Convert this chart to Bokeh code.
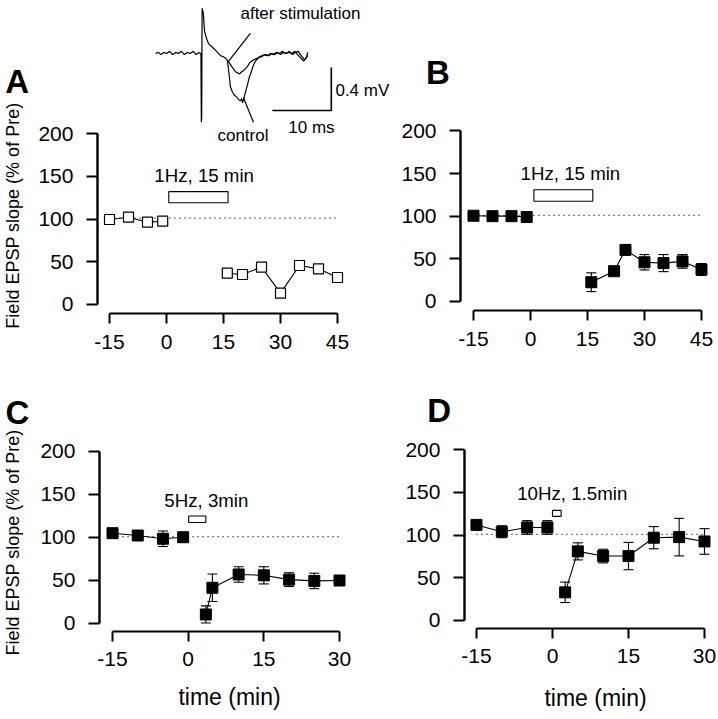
import math
from bokeh.plotting import figure
from bokeh.layouts import row, column
from bokeh.models import Range1d, FixedTicker, Label, Whisker, TeeHead, ColumnDataSource
from bokeh.embed import file_html
from bokeh.resources import INLINE

# ---------------- data ----------------
# Panel A: 1 Hz, 15 min (single experiment, open squares)
a_pre_t = [-15, -10, -5, -1]
a_pre_v = [99.4, 102.1, 96.3, 97.4]
a_post_t = [16, 20, 25, 30, 35, 40, 45]
a_post_v = [36.6, 35.1, 43.7, 13.3, 45.6, 41.7, 31.6]

# Panel B: 1 Hz, 15 min (mean +/- s.e.m.)
b_pre_t = [-15, -10, -5, -1]
b_pre_v = [100.5, 100, 100, 99]
b_pre_e = [3, 3, 3, 3]
b_post_t = [16, 22, 25, 30, 35, 40, 45]
b_post_v = [22.6, 35.5, 60.5, 46, 45, 47, 37.5]
b_post_e = [11, 4, 6, 9, 10, 8, 7]

# Panel C: 5 Hz, 3 min
c_pre_t = [-15, -10, -5, -1]
c_pre_v = [105, 102.3, 98.5, 100.3]
c_pre_e = [2, 5, 9, 4]
c_post_t = [3.5, 4.8, 10, 15, 20, 25, 30]
c_post_v = [10.5, 41.5, 57, 56, 51, 49.5, 50]
c_post_e = [10, 16, 9, 10, 8, 9, 3]

# Panel D: 10 Hz, 1.5 min
d_pre_t = [-15, -10, -5, -1]
d_pre_v = [112, 104, 109, 109]
d_pre_e = [3, 7, 8, 8]
d_post_t = [2.5, 5, 10, 15, 20, 25, 30]
d_post_v = [33, 81, 75.5, 75.5, 97, 97.7, 92.6]
d_post_e = [12, 10, 8, 16, 13, 22, 15]

# stimulation periods (min)
stim_a = (0.6, 16.2)
stim_b = (0.9, 16.4)
stim_c = (0.1, 3.5)
stim_d = (0.0, 1.7)
stim_labels = ["1Hz, 15 min", "1Hz, 15 min", "5Hz, 3min", "10Hz, 1.5min"]

baseline_pct = 101
y_ticks = [0, 50, 100, 150, 200]
x_ticks_long = [-15, 0, 15, 30, 45]
x_ticks_short = [-15, 0, 15, 30]

# Inset field potential traces (time in ms from stimulus, amplitude in mV)
trace_pre_t = [-7.8, -7.3, -6.9, -6.4, -5.9, -5.4, -4.9, -4.4, -3.9, -3.4, -2.9, -2.4, -1.9,
               -1.4, -0.9, -0.4, -0.1, -0.03, 0.03, 0.1, 0.3, 0.5, 0.85, 1.2, 1.7, 2.2, 2.7,
               3.2, 3.7, 4.1, 4.4]
trace_pre_mv = [0.0, 0.01, -0.01, 0.01, 0.0, 0.02, -0.01, 0.01, 0.0, 0.02, -0.01, 0.01, 0.0,
                0.02, -0.01, 0.01, 0.0, -0.64, -0.6, 0.42, 0.38, 0.21, 0.14, 0.09, 0.065, 0.04,
                0.01, -0.02, -0.03, -0.045, -0.065]
control_t = [4.6, 4.75, 4.9, 5.25, 5.6, 5.9, 6.3, 6.6, 6.8, 6.95, 7.1, 7.45, 7.8, 8.1, 8.5,
             8.8, 9.15, 9.5, 9.8, 10.3, 10.8, 11.4, 11.9, 12.4, 12.9, 13.4, 13.9, 14.4, 14.9,
             15.4, 15.9, 16.4, 16.9, 17.5, 17.8, 18.0]
control_mv = [-0.16, -0.23, -0.31, -0.36, -0.39, -0.40, -0.43, -0.44, -0.42, -0.46, -0.43,
              -0.36, -0.29, -0.22, -0.16, -0.11, -0.07, -0.05, -0.03, -0.02, -0.01, -0.02, 0.0,
              -0.01, 0.01, -0.01, 0.01, 0.0, 0.02, -0.01, 0.01, 0.02, -0.02, -0.06, -0.03, 0.01]
after_t = [4.75, 5.1, 5.4, 5.75, 6.1, 6.45, 6.8, 7.1, 7.45, 7.8, 8.1, 8.5, 8.8, 9.15, 9.7,
           10.2, 10.7, 11.2, 11.7, 12.2, 12.7, 13.2, 13.7, 14.2, 14.7, 15.3, 15.8, 16.3, 16.8,
           17.3, 17.6, 18.0]
after_mv = [-0.09, -0.12, -0.14, -0.17, -0.18, -0.19, -0.17, -0.16, -0.14, -0.12, -0.09,
            -0.07, -0.06, -0.05, -0.04, -0.03, -0.01, -0.02, 0.0, -0.01, 0.01, 0.0, 0.02, 0.0,
            0.01, 0.0, 0.02, -0.01, -0.04, -0.07, -0.05, -0.02]
scale_ms = 10
scale_mv = 0.4

# ---------------- styling helpers ----------------
FONT = "Liberation Sans"


def make_panel(width, height, xr, yr, xticks, yaxis_at, xaxis_at):
    # the frame fills the whole canvas; axes sit at fixed data positions
    p = figure(width=width, height=height,
               x_range=Range1d(*xr), y_range=Range1d(*yr),
               output_backend="svg", toolbar_location=None,
               min_border_left=0, min_border_right=0,
               min_border_top=0, min_border_bottom=0)
    p.grid.visible = False
    p.outline_line_color = None
    p.background_fill_color = "white"
    p.border_fill_color = "white"
    xa = p.xaxis[0]
    xa.fixed_location = xaxis_at
    xa.ticker = FixedTicker(ticks=xticks)
    xa.major_label_overrides = {t: str(t) for t in xticks}
    xa.bounds = (xticks[0], xticks[-1])
    xa.major_tick_in = 0
    xa.major_tick_out = 10
    xa.minor_tick_line_color = None
    xa.axis_line_width = 2
    xa.major_tick_line_width = 2
    xa.major_label_text_font = FONT
    xa.major_label_text_font_size = "21px"
    xa.major_label_text_color = "black"
    xa.major_label_standoff = 11
    ya = p.yaxis[0]
    ya.fixed_location = yaxis_at
    ya.ticker = FixedTicker(ticks=y_ticks)
    ya.bounds = (y_ticks[0], y_ticks[-1])
    ya.major_tick_in = 0
    ya.major_tick_out = 11
    ya.minor_tick_line_color = None
    ya.axis_line_width = 2.4
    ya.major_tick_line_width = 2
    ya.major_label_text_font = FONT
    ya.major_label_text_font_size = "21px"
    ya.major_label_text_color = "black"
    ya.major_label_standoff = 13
    # baseline (100 %) dotted line
    p.line([xticks[0], xticks[-1]], [baseline_pct, baseline_pct], line_color="black",
           line_width=1.2, line_dash="1 4")
    return p


def add_series(p, t, v, e=None, open_marker=False):
    p.line(t, v, line_color="black", line_width=1.1)
    if e is not None:
        src = ColumnDataSource(dict(t=t, hi=[a + b for a, b in zip(v, e)],
                                    lo=[a - b for a, b in zip(v, e)]))
        w = Whisker(source=src, base="t", upper="hi", lower="lo", line_color="black",
                    line_width=1.1,
                    upper_head=TeeHead(size=10, line_color="black", line_width=1.1),
                    lower_head=TeeHead(size=10, line_color="black", line_width=1.1))
        p.add_layout(w)
    if open_marker:
        p.scatter(t, v, marker="square", size=10, fill_color="white",
                  line_color="black", line_width=1.2)
    else:
        p.scatter(t, v, marker="square", size=11, fill_color="black",
                  line_color="black")


def add_stim(p, stim, bottom, top, label, lx, ly):
    p.quad(left=[stim[0]], right=[stim[1]], bottom=[bottom], top=[top],
           fill_color="white", line_color="black", line_width=1.1)
    p.add_layout(Label(x=lx, y=ly, text=label, text_font=FONT, text_font_size="18.7px",
                       text_align="center", text_baseline="middle", text_color="black"))


def add_letter(p, x, y, letter):
    p.add_layout(Label(x=x, y=y, text=letter, text_font=FONT, text_font_size="33px",
                       text_font_style="bold", text_align="left", text_baseline="middle",
                       text_color="black"))


def add_ytitle(p, x, y):
    p.add_layout(Label(x=x, y=y, text="Field EPSP slope (% of Pre)", angle=math.pi / 2,
                       text_font=FONT, text_font_size="18px", text_align="center",
                       text_baseline="middle", text_color="black"))


def add_xtitle(p, x, y):
    p.add_layout(Label(x=x, y=y, text="time (min)", text_font=FONT, text_font_size="23px",
                       text_align="center", text_baseline="middle", text_color="black"))


# ---------------- Panel A (with inset traces) ----------------
pA = make_panel(392, 358, (-43.68, 59.47), (-63.16, 355.56), x_ticks_long, -18.16, -10.53)
add_series(pA, a_pre_t, a_pre_v, open_marker=True)
add_series(pA, a_post_t, a_post_v, open_marker=True)
add_stim(pA, stim_a, 119, 132, stim_labels[0], 9.9, 151)
add_letter(pA, -42.4, 260.8, "A")
add_ytitle(pA, -40.5, 104)

pA.extra_x_ranges = {"ms": Range1d(-34.07, 32.37)}
pA.extra_y_ranges = {"mv": Range1d(-2.837, 0.493)}
pA.line(trace_pre_t + control_t, trace_pre_mv + control_mv, line_color="black",
        line_width=1.2, x_range_name="ms", y_range_name="mv")
pA.line(trace_pre_t[-1:] + after_t, trace_pre_mv[-1:] + after_mv, line_color="black",
        line_width=1.2, x_range_name="ms", y_range_name="mv")
# scale bar
sb_t, sb_v = 22.0, -0.53
pA.line([sb_t - scale_ms, sb_t, sb_t], [sb_v, sb_v, sb_v + scale_mv], line_color="black",
        line_width=1.6, x_range_name="ms", y_range_name="mv")
# pointer lines
pA.line([8.3, 4.6], [0.19, -0.07], line_color="black", line_width=1.2,
        x_range_name="ms", y_range_name="mv")
pA.line([8.8, 7.1], [-0.64, -0.41], line_color="black", line_width=1.2,
        x_range_name="ms", y_range_name="mv")
for txt, tx, ty in [("after stimulation", 6.6, 0.37), ("control", 2.7, -0.76),
                    ("0.4 mV", 22.7, -0.34), ("10 ms", 14.7, -0.69)]:
    pA.add_layout(Label(x=tx, y=ty, text=txt, x_range_name="ms", y_range_name="mv",
                        text_font=FONT, text_font_size="17px", text_align="left",
                        text_baseline="middle", text_color="black"))

# ---------------- Panel B ----------------
pB = make_panel(324, 358, (-36.32, 48.95), (-66.8, 352.75), x_ticks_long, -18.42, -10.55)
add_series(pB, b_pre_t, b_pre_v, b_pre_e)
add_series(pB, b_post_t, b_post_v, b_post_e)
add_stim(pB, stim_b, 117.5, 131, stim_labels[1], 10.5, 149.6)
add_letter(pB, -27.5, 268, "B")

# ---------------- Panel C ----------------
pC = make_panel(376, 355, (-37.21, 37.33), (-104.65, 308.1), x_ticks_short, -17.59, -9.3)
add_series(pC, c_pre_t, c_pre_v, c_pre_e)
add_series(pC, c_post_t, c_post_v, c_post_e)
add_stim(pC, stim_c, 117.5, 125, stim_labels[2], 3.6, 143)
add_letter(pC, -36.2, 245, "C")
add_ytitle(pC, -34.8, 94.2)
add_xtitle(pC, 8.2, -86)

# ---------------- Panel D ----------------
pD = make_panel(340, 355, (-34.73, 32.37), (-109.0, 307.0), x_ticks_short, -17.37, -9.38)
add_series(pD, d_pre_t, d_pre_v, d_pre_e)
add_series(pD, d_post_t, d_post_v, d_post_e)
add_stim(pD, stim_d, 122, 129, stim_labels[3], 3.9, 148.5)
add_letter(pD, -24.7, 246, "D")
add_xtitle(pD, 8.5, -91.4)

layout = column(row(pA, pB), row(pC, pD))
open("out.html", "w").write(file_html(layout, INLINE))
